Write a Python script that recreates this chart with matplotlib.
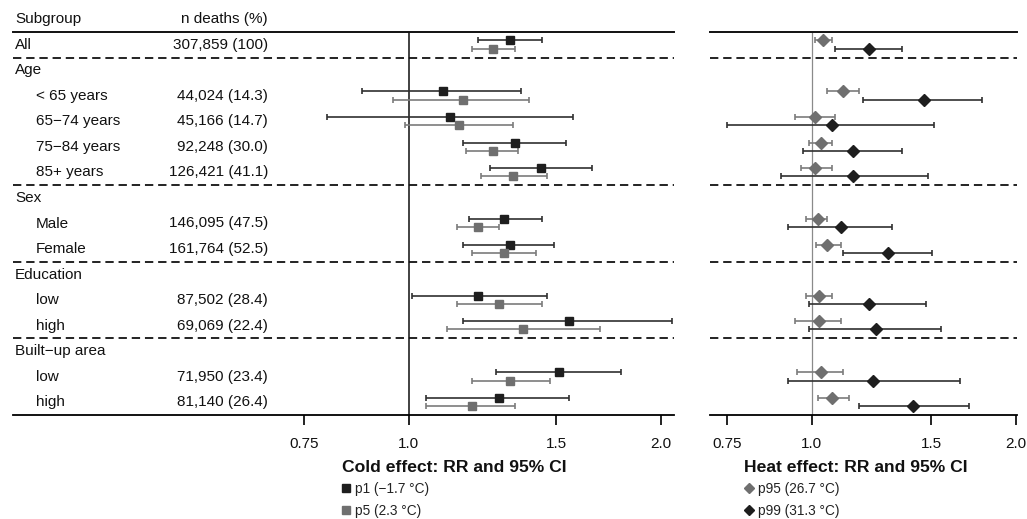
import matplotlib
matplotlib.use('Agg')
import matplotlib.pyplot as plt
import numpy as np
from matplotlib.transforms import blended_transform_factory
from matplotlib.lines import Line2D

plt.rcParams['font.family'] = ['Liberation Sans', 'DejaVu Sans']
plt.rcParams['lines.scale_dashes'] = False

nan = np.nan

# ---------------- data ----------------
row_labels = ['All', 'Age', '< 65 years', '65\u221274 years', '75\u221284 years', '85+ years',
              'Sex', 'Male', 'Female', 'Education', 'low', 'high',
              'Built\u2212up area', 'low', 'high']
is_header = [True, True, False, False, False, False, True, False, False,
             True, False, False, True, False, False]
n_deaths = ['307,859 (100)', '', '44,024 (14.3)', '45,166 (14.7)', '92,248 (30.0)',
            '126,421 (41.1)', '', '146,095 (47.5)', '161,764 (52.5)', '',
            '87,502 (28.4)', '69,069 (22.4)', '', '71,950 (23.4)', '81,140 (26.4)']

# Cold effect
p1_est = [1.322, nan, 1.100, 1.120, 1.341, 1.441, nan, 1.301, 1.322, nan, 1.210, 1.554, nan, 1.513, 1.281]
p1_lo  = [1.211, nan, 0.879, 0.799, 1.161, 1.251, nan, 1.180, 1.161, nan, 1.009, 1.161, nan, 1.272, 1.049]
p1_hi  = [1.443, nan, 1.361, 1.573, 1.543, 1.655, nan, 1.443, 1.493, nan, 1.464, 2.065, nan, 1.796, 1.554]
p5_est = [1.261, nan, 1.161, 1.150, 1.261, 1.332, nan, 1.211, 1.301, nan, 1.281, 1.371, nan, 1.322, 1.191]
p5_lo  = [1.190, nan, 0.959, 0.990, 1.172, 1.220, nan, 1.142, 1.190, nan, 1.142, 1.111, nan, 1.190, 1.049]
p5_hi  = [1.341, nan, 1.392, 1.333, 1.351, 1.463, nan, 1.281, 1.421, nan, 1.444, 1.695, nan, 1.475, 1.341]

# Heat effect
p95_est = [1.040, nan, 1.110, 1.011, 1.032, 1.011, nan, 1.022, 1.051, nan, 1.023, 1.023, nan, 1.033, 1.072]
p95_lo  = [1.011, nan, 1.051, 0.943, 0.991, 0.963, nan, 0.982, 1.013, nan, 0.981, 0.943, nan, 0.952, 1.022]
p95_hi  = [1.071, nan, 1.172, 1.082, 1.071, 1.071, nan, 1.052, 1.104, nan, 1.072, 1.103, nan, 1.113, 1.133]
p99_est = [1.212, nan, 1.463, 1.071, 1.150, 1.150, nan, 1.103, 1.293, nan, 1.212, 1.243, nan, 1.230, 1.411]
p99_lo  = [1.082, nan, 1.191, 0.751, 0.972, 0.902, nan, 0.921, 1.113, nan, 0.991, 0.991, nan, 0.922, 1.172]
p99_hi  = [1.358, nan, 1.780, 1.512, 1.358, 1.481, nan, 1.312, 1.501, nan, 1.472, 1.550, nan, 1.653, 1.701]

tick_vals = [0.75, 1.0, 1.5, 2.0]
tick_labels = ['0.75', '1.0', '1.5', '2.0']
cold_labels = ['p1 (\u22121.7 \u00b0C)', 'p5 (2.3 \u00b0C)']
heat_labels = ['p95 (26.7 \u00b0C)', 'p99 (31.3 \u00b0C)']
group_breaks = [0.5, 5.5, 8.5, 11.5]

# ---------------- figure ----------------
W, H = 1027, 519
fig = plt.figure(figsize=(W / 100, H / 100), dpi=100)

def fx(px):
    return px / W

def fy(py):
    return 1 - py / H

ax_c = fig.add_axes([fx(13), fy(415), fx(674) - fx(13), fy(32) - fy(415)])
ax_h = fig.add_axes([fx(710), fy(415), fx(1017) - fx(710), fy(32) - fy(415)])

dark = '#1e1e1e'
gray = '#6f6f6f'
dark_line = '#303030'
gray_line = '#7c7c7c'
n = len(row_labels)
y = np.arange(n)
off_a, off_b = -0.17, 0.15

def err(est, lo, hi):
    est, lo, hi = map(np.asarray, (est, lo, hi))
    return np.vstack([est - lo, hi - est])

for ax, xlim in ((ax_c, (0.337, 2.075)), (ax_h, (0.708, 2.005))):
    ax.set_xscale('log')
    ax.set_xlim(*xlim)
    ax.set_ylim(n - 0.5, -0.5)
    for s in ('top', 'left', 'right'):
        ax.spines[s].set_visible(False)
    ax.spines['bottom'].set_linewidth(1.3)
    ax.set_yticks([])
    ax.set_xticks(tick_vals)
    ax.set_xticklabels(tick_labels)
    ax.xaxis.set_minor_locator(matplotlib.ticker.NullLocator())
    ax.tick_params(axis='x', direction='out', length=7, width=1.3, pad=9,
                   labelsize=11, colors='#111111')
    ax.axhline(-0.5, color='#111111', lw=1.4, clip_on=False)
    for b in group_breaks:
        ax.axhline(b, color='#111111', lw=1.3, dashes=(6, 3.5))
    ax.patch.set_visible(False)

ax_c.axvline(1.0, color='#333333', lw=1.3, zorder=1)
ax_h.axvline(1.0, color='#8a8a8a', lw=0.9, zorder=1)

eb_kw = dict(elinewidth=1.2, capsize=2.4, capthick=1.2, zorder=3, linestyle='none')
ax_c.errorbar(p1_est, y + off_a, xerr=err(p1_est, p1_lo, p1_hi), fmt='s', ms=6.4,
              color=dark, ecolor=dark_line, **eb_kw)
ax_c.errorbar(p5_est, y + off_b, xerr=err(p5_est, p5_lo, p5_hi), fmt='s', ms=6.4,
              color=gray, ecolor=gray_line, **eb_kw)
ax_h.errorbar(p95_est, y + off_a, xerr=err(p95_est, p95_lo, p95_hi), fmt='D', ms=6.0,
              color=gray, ecolor=gray_line, **eb_kw)
ax_h.errorbar(p99_est, y + off_b, xerr=err(p99_est, p99_lo, p99_hi), fmt='D', ms=6.0,
              color=dark, ecolor=dark_line, **eb_kw)

# table text
tr = blended_transform_factory(fig.transFigure, ax_c.transData)
fs = 11
for i, (lab, hdr, nd) in enumerate(zip(row_labels, is_header, n_deaths)):
    ax_c.text(fx(15) if hdr else fx(36), i, lab, transform=tr, ha='left', va='center',
              fontsize=fs, color='#111111')
    if nd:
        ax_c.text(fx(268), i, nd, transform=tr, ha='right', va='center',
                  fontsize=fs, color='#111111')

fig.text(fx(15), fy(19), 'Subgroup', ha='left', va='center', fontsize=fs, color='#111111')
fig.text(fx(268), fy(19), 'n deaths (%)', ha='right', va='center', fontsize=fs, color='#111111')

# titles
fig.text(fx(342), fy(468), 'Cold effect: RR and 95% CI', ha='left', va='center',
         fontsize=12.6, fontweight='bold', color='#111111')
fig.text(fx(744), fy(468), 'Heat effect: RR and 95% CI', ha='left', va='center',
         fontsize=12.6, fontweight='bold', color='#111111')

# legends
cold_handles = [Line2D([], [], marker='s', ls='none', color=dark, ms=6.4),
                Line2D([], [], marker='s', ls='none', color=gray, ms=6.4)]
heat_handles = [Line2D([], [], marker='D', ls='none', color=gray, ms=5.4),
                Line2D([], [], marker='D', ls='none', color=dark, ms=5.4)]
leg_kw = dict(loc='upper left', frameon=False, fontsize=9.8, handlelength=0.7,
              handletextpad=0.35, labelspacing=0.6, borderpad=0, borderaxespad=0,
              bbox_transform=fig.transFigure)
lc = ax_c.legend(cold_handles, cold_labels, bbox_to_anchor=(fx(341), fy(482)), **leg_kw)
lh = ax_h.legend(heat_handles, heat_labels, bbox_to_anchor=(fx(744), fy(482)), **leg_kw)
for lg in (lc, lh):
    for t in lg.get_texts():
        t.set_color('#222222')

fig.savefig('out.png', dpi=100)
